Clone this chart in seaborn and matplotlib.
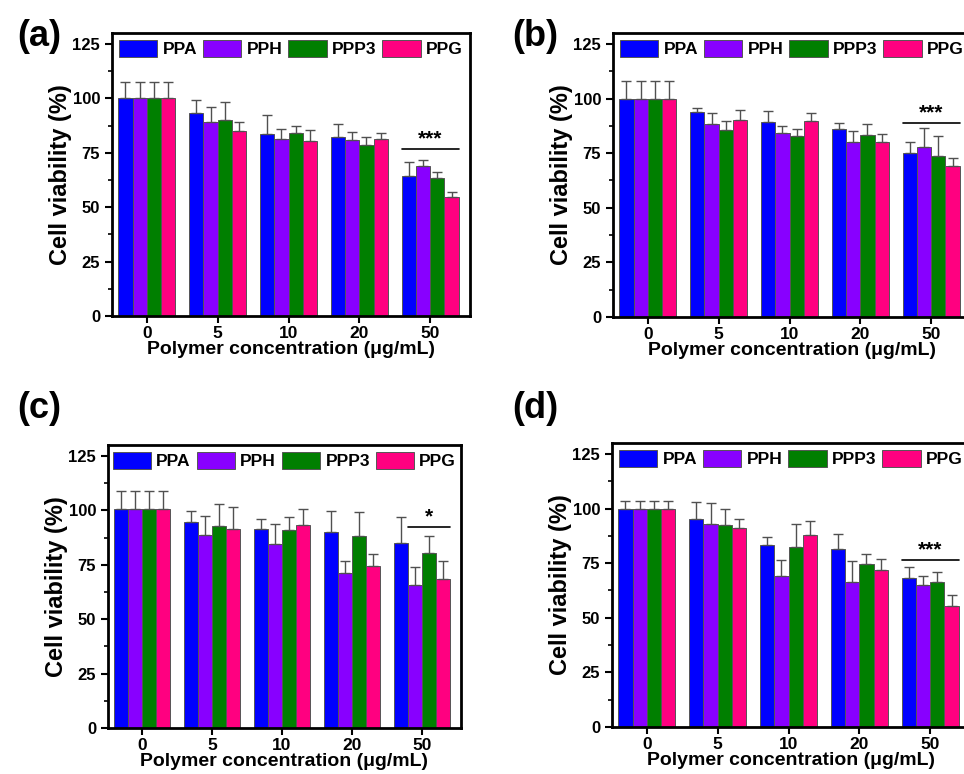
import numpy as np
import pandas as pd
import seaborn as sns
import matplotlib.pyplot as plt
from matplotlib.ticker import AutoMinorLocator, MultipleLocator

# concentrations and polymers
conc = ['0', '5', '10', '20', '50']
polymers = ['PPA', 'PPH', 'PPP3', 'PPG']
colors = {'PPA': '#0000FF', 'PPH': '#8800FF', 'PPP3': '#007F00', 'PPG': '#FF0080'}

# panel (a) - rows: PPA, PPH, PPP3, PPG
a_mean = [[100, 93.4, 83.8, 82.0, 64.5],
          [100, 89.0, 81.5, 80.7, 68.9],
          [100, 90.1, 84.1, 78.7, 63.6],
          [100, 84.9, 80.3, 81.2, 54.7]]
a_err = [[7.5, 6.0, 8.6, 6.0, 6.3],
         [7.5, 7.0, 4.6, 3.8, 2.9],
         [7.5, 8.0, 3.0, 3.7, 2.4],
         [7.5, 4.0, 5.3, 3.0, 2.3]]

# panel (b)
b_mean = [[100, 93.8, 89.3, 85.9, 75.2],
          [100, 88.3, 84.1, 79.9, 77.8],
          [100, 85.8, 82.7, 83.3, 73.8],
          [100, 90.1, 89.6, 79.9, 68.9]]
b_err = [[8.2, 2.0, 4.8, 3.1, 5.1],
         [8.2, 5.0, 3.4, 5.2, 8.6],
         [8.2, 3.7, 3.2, 5.2, 8.9],
         [8.2, 4.5, 3.9, 4.0, 3.7]]

# panel (c)
c_mean = [[100.5, 94.7, 91.5, 90.2, 85.0],
          [100.5, 88.7, 84.7, 71.4, 65.7],
          [100.5, 92.8, 90.8, 88.4, 80.6],
          [100.5, 91.3, 93.1, 74.3, 68.3]]
c_err = [[8.3, 5.2, 4.4, 9.5, 12.0],
         [8.3, 8.9, 9.2, 5.5, 8.1],
         [8.3, 10.1, 6.1, 10.7, 7.8],
         [8.3, 10.0, 7.5, 5.7, 8.6]]

# panel (d)
d_mean = [[100, 95.0, 83.3, 81.4, 68.0],
          [100, 92.9, 69.1, 66.6, 64.9],
          [100, 92.5, 82.5, 74.4, 66.2],
          [100, 91.1, 87.7, 71.7, 55.5]]
d_err = [[3.3, 8.1, 3.8, 7.1, 5.3],
         [3.3, 9.6, 7.5, 9.5, 4.0],
         [3.3, 7.4, 10.4, 4.8, 4.7],
         [3.3, 3.9, 6.6, 5.0, 4.9]]

# significance: (line height, stars, first polymer index under the line)
sig_a = (76.6, '***', 0)
sig_b = (88.9, '***', 0)
sig_c = (92.4, '*', 1)
sig_d = (76.4, '***', 0)

sns.set_style('ticks')
plt.rcParams['font.family'] = ['Liberation Sans', 'DejaVu Sans']
plt.rcParams['font.weight'] = 'bold'
plt.rcParams['axes.labelweight'] = 'bold'
for k in ['text.color', 'axes.labelcolor', 'xtick.color', 'ytick.color']:
    plt.rcParams[k] = 'black'

fig = plt.figure(figsize=(9.64, 7.74), dpi=100)

W, H = 964, 774
boxes = [(112, 33, 358, 283), (613, 33, 358, 284),
         (108, 445, 353, 283), (612, 443, 358, 284)]
panels = [('(a)', a_mean, a_err, sig_a, (17, 36)),
          ('(b)', b_mean, b_err, sig_b, (512, 36)),
          ('(c)', c_mean, c_err, sig_c, (17, 408)),
          ('(d)', d_mean, d_err, sig_d, (512, 408))]

for (left, top, w, h), (tag, means, errs, sig, tpos) in zip(boxes, panels):
    ax = fig.add_axes([left / W, 1 - (top + h) / H, w / W, h / H])

    rows = []
    for p, vals in zip(polymers, means):
        for c, v in zip(conc, vals):
            rows.append({'conc': c, 'polymer': p, 'viability': v})
    df = pd.DataFrame(rows)

    sns.barplot(data=df, x='conc', y='viability', hue='polymer', order=conc,
                hue_order=polymers, palette=colors, errorbar=None, width=0.8,
                saturation=1, edgecolor='#555555', linewidth=0.7, ax=ax)
    bars = list(ax.containers)

    # upper-only error bars
    for cont, e in zip(bars, errs):
        for bar, err in zip(cont, e):
            xc = bar.get_x() + bar.get_width() / 2
            ax.errorbar(xc, bar.get_height(), yerr=[[0], [err]], fmt='none',
                        ecolor='#505050', elinewidth=1.0, capsize=3.5,
                        capthick=1.0, zorder=3)

    # significance bar over the 50 ug/mL group
    yline, stars, first = sig
    x0 = bars[first][4].get_x()
    last = bars[-1][4]
    x1 = last.get_x() + last.get_width()
    ax.plot([x0, x1], [yline, yline], color='black', lw=1.2)
    ax.text((x0 + x1) / 2, yline + 0.3, stars, ha='center', va='bottom',
            fontsize=15, fontweight='bold')

    ax.set_ylim(0, 130)
    ax.set_xlim(-0.49, 4.56)
    ax.yaxis.set_major_locator(MultipleLocator(25))
    ax.yaxis.set_minor_locator(AutoMinorLocator(2))
    ax.tick_params(axis='both', which='major', direction='out', length=5,
                   width=1.5, top=False, right=False)
    ax.tick_params(axis='y', which='minor', length=3, width=1.2)
    ax.tick_params(axis='y', labelsize=12)
    ax.tick_params(axis='x', labelsize=12.5, pad=2)
    for lab in ax.get_xticklabels() + ax.get_yticklabels():
        lab.set_fontweight('bold')
    for s in ax.spines.values():
        s.set_visible(True)
        s.set_linewidth(2)
        s.set_color('black')

    ax.set_ylabel('Cell viability (%)', fontsize=17, fontweight='bold', labelpad=0)
    ax.set_xlabel('Polymer concentration (μg/mL)', fontsize=14,
                  fontweight='bold', labelpad=0)

    leg = ax.legend(loc='upper center', bbox_to_anchor=(0.5, 1.0), ncol=4,
                    frameon=False, fontsize=12.5, handlelength=2.2,
                    handleheight=1.1, handletextpad=0.3, columnspacing=0.35,
                    borderaxespad=0.2, borderpad=0.2)
    for t in leg.get_texts():
        t.set_fontweight('bold')

    fig.text(tpos[0] / W, 1 - tpos[1] / H, tag, fontsize=26, fontweight='bold',
             ha='left', va='center')

fig.savefig('out.png', dpi=100)
